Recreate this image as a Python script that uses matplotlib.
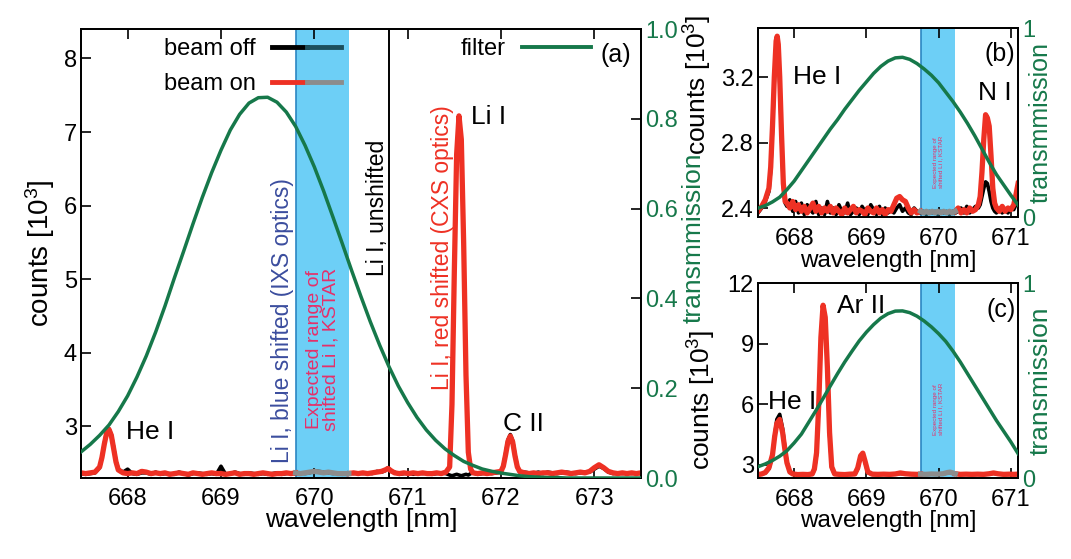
import numpy as np
import matplotlib
matplotlib.use("Agg")
import matplotlib.pyplot as plt
from matplotlib.lines import Line2D
from matplotlib.legend_handler import HandlerTuple

plt.rcParams['font.family'] = ['Liberation Sans', 'DejaVu Sans']
plt.rcParams['mathtext.default'] = 'regular'

# ---------------- data: panel (a) ----------------
wl_a = [667.50, 667.55, 667.60, 667.65, 667.70, 667.725, 667.75, 667.775, 667.80, 667.825,
        667.85, 667.875, 667.90, 667.95, 668.00, 668.05, 668.10, 668.15, 668.20, 668.25,
        668.30, 668.35, 668.40, 668.45, 668.50, 668.55, 668.60, 668.65, 668.70, 668.75,
        668.80, 668.85, 668.90, 668.95, 669.00, 669.05, 669.10, 669.15, 669.20, 669.25,
        669.30, 669.35, 669.40, 669.45, 669.50, 669.55, 669.60, 669.65, 669.70, 669.75,
        669.80, 669.85, 669.90, 669.95, 670.00, 670.05, 670.10, 670.15, 670.20, 670.25,
        670.30, 670.37, 670.42, 670.47, 670.52, 670.57, 670.62, 670.67, 670.72, 670.76,
        670.79, 670.82, 670.86, 670.91, 670.96, 671.01, 671.06, 671.11, 671.16, 671.21,
        671.26, 671.31, 671.36, 671.41, 671.45, 671.475, 671.50, 671.525, 671.55, 671.575,
        671.60, 671.625, 671.65, 671.675, 671.70, 671.75, 671.80, 671.85, 671.90, 671.95,
        672.00, 672.025, 672.05, 672.075, 672.10, 672.125, 672.15, 672.175, 672.20, 672.25,
        672.30, 672.35, 672.40, 672.45, 672.50, 672.55, 672.60, 672.65, 672.70, 672.75,
        672.80, 672.85, 672.90, 672.95, 673.00, 673.05, 673.10, 673.15, 673.20, 673.25,
        673.30, 673.35, 673.40, 673.45, 673.50]
on_a = [2.37, 2.36, 2.37, 2.38, 2.45, 2.58, 2.76, 2.91, 2.96, 2.88,
        2.70, 2.52, 2.41, 2.37, 2.36, 2.37, 2.36, 2.39, 2.38, 2.36,
        2.37, 2.36, 2.37, 2.35, 2.36, 2.37, 2.36, 2.35, 2.37, 2.36,
        2.35, 2.36, 2.37, 2.36, 2.36, 2.35, 2.36, 2.37, 2.35, 2.36,
        2.36, 2.35, 2.36, 2.37, 2.36, 2.35, 2.36, 2.36, 2.37, 2.36,
        2.37, 2.36, 2.37, 2.38, 2.39, 2.38, 2.37, 2.38, 2.37, 2.36,
        2.36, 2.36, 2.37, 2.36, 2.37, 2.36, 2.37, 2.38, 2.39, 2.41,
        2.43, 2.40, 2.37, 2.36, 2.37, 2.36, 2.37, 2.36, 2.37, 2.36,
        2.36, 2.37, 2.36, 2.38, 2.45, 3.30, 5.10, 6.70, 7.22, 6.90,
        5.50, 3.70, 2.65, 2.42, 2.37, 2.36, 2.37, 2.36, 2.37, 2.38,
        2.39, 2.46, 2.62, 2.80, 2.87, 2.79, 2.60, 2.45, 2.39, 2.37,
        2.36, 2.37, 2.36, 2.37, 2.37, 2.36, 2.37, 2.38, 2.37, 2.36,
        2.37, 2.38, 2.37, 2.39, 2.44, 2.48, 2.44, 2.39, 2.37, 2.36,
        2.37, 2.36, 2.37, 2.36, 2.37]
off_a = [2.36, 2.35, 2.36, 2.37, 2.44, 2.58, 2.77, 2.92, 2.97, 2.89,
         2.72, 2.53, 2.42, 2.38, 2.42, 2.36, 2.35, 2.37, 2.37, 2.35,
         2.38, 2.35, 2.36, 2.36, 2.35, 2.38, 2.36, 2.34, 2.36, 2.37,
         2.36, 2.35, 2.36, 2.35, 2.46, 2.35, 2.36, 2.38, 2.36, 2.35,
         2.37, 2.36, 2.35, 2.36, 2.35, 2.36, 2.37, 2.35, 2.36, 2.37,
         2.36, 2.37, 2.36, 2.37, 2.40, 2.39, 2.38, 2.37, 2.36, 2.37,
         2.35, 2.37, 2.36, 2.37, 2.36, 2.37, 2.36, 2.39, 2.38, 2.40,
         2.44, 2.39, 2.38, 2.35, 2.36, 2.37, 2.35, 2.37, 2.36, 2.37,
         2.35, 2.36, 2.37, 2.36, 2.34, 2.33, 2.34, 2.35, 2.34, 2.33,
         2.34, 2.35, 2.34, 2.36, 2.37, 2.35, 2.36, 2.37, 2.36, 2.37,
         2.38, 2.47, 2.64, 2.82, 2.89, 2.81, 2.62, 2.46, 2.38, 2.38,
         2.37, 2.36, 2.38, 2.36, 2.38, 2.37, 2.36, 2.37, 2.38, 2.37,
         2.36, 2.37, 2.38, 2.38, 2.42, 2.46, 2.43, 2.38, 2.36, 2.37,
         2.36, 2.37, 2.36, 2.37, 2.36]
filt_wl_a = np.round(np.arange(667.5, 673.55, 0.1), 2)
filt_a = [0.058, 0.075, 0.095, 0.118, 0.148, 0.183, 0.225, 0.272, 0.325, 0.383,
          0.445, 0.505, 0.566, 0.625, 0.680, 0.730, 0.775, 0.810, 0.835, 0.847,
          0.848, 0.837, 0.815, 0.783, 0.741, 0.693, 0.639, 0.581, 0.522, 0.462,
          0.404, 0.348, 0.296, 0.248, 0.205, 0.168, 0.135, 0.107, 0.084, 0.065,
          0.050, 0.037, 0.028, 0.020, 0.015, 0.011, 0.008, 0.005, 0.003, 0.002,
          0.001, 0.001, 0.000, 0.000, 0.000, 0.000, 0.000, 0.000, 0.000, 0.000,
          0.000]
band_a = (669.80, 670.37)
li_unshifted = 670.8

# ---------------- data: panel (b) ----------------
wl_b = [667.50, 667.55, 667.60, 667.65, 667.675, 667.70, 667.725, 667.75, 667.765, 667.78,
        667.80, 667.825, 667.85, 667.875, 667.90, 667.94, 667.98, 668.02, 668.06, 668.10,
        668.14, 668.18, 668.22, 668.26, 668.30, 668.34, 668.38, 668.42, 668.46, 668.50,
        668.54, 668.58, 668.62, 668.66, 668.70, 668.74, 668.78, 668.82, 668.86, 668.90,
        668.94, 668.98, 669.02, 669.06, 669.10, 669.14, 669.18, 669.22, 669.26, 669.30,
        669.34, 669.38, 669.42, 669.46, 669.50, 669.54, 669.58, 669.62, 669.66, 669.70,
        669.75, 669.79, 669.83, 669.87, 669.91, 669.95, 669.99, 670.03, 670.07, 670.11,
        670.15, 670.19, 670.23, 670.27, 670.31, 670.35, 670.39, 670.43, 670.47, 670.51,
        670.55, 670.575, 670.60, 670.625, 670.65, 670.675, 670.70, 670.725, 670.75, 670.775,
        670.80, 670.84, 670.88, 670.92, 670.96, 671.00, 671.04, 671.07, 671.10]
on_b = [2.38, 2.41, 2.45, 2.52, 2.65, 2.90, 3.20, 3.42, 3.45, 3.40,
        3.20, 2.85, 2.55, 2.44, 2.43, 2.40, 2.44, 2.39, 2.42, 2.38,
        2.41, 2.37, 2.40, 2.43, 2.38, 2.41, 2.37, 2.40, 2.38, 2.41,
        2.37, 2.40, 2.38, 2.36, 2.40, 2.37, 2.39, 2.41, 2.37, 2.39,
        2.38, 2.36, 2.40, 2.38, 2.37, 2.40, 2.37, 2.39, 2.36, 2.39,
        2.38, 2.42, 2.46, 2.47, 2.45, 2.44, 2.40, 2.37, 2.39, 2.37,
        2.38, 2.37, 2.38, 2.37, 2.38, 2.37, 2.38, 2.37, 2.38, 2.37,
        2.38, 2.37, 2.38, 2.40, 2.37, 2.39, 2.37, 2.40, 2.38, 2.39,
        2.42, 2.47, 2.62, 2.82, 2.97, 2.95, 2.90, 2.72, 2.52, 2.43,
        2.40, 2.38, 2.41, 2.38, 2.40, 2.39, 2.42, 2.48, 2.55]
off_b = [2.37, 2.40, 2.44, 2.50, 2.63, 2.88, 3.18, 3.40, 3.43, 3.38,
         3.17, 2.83, 2.53, 2.43, 2.41, 2.45, 2.38, 2.44, 2.37, 2.43,
         2.36, 2.42, 2.39, 2.37, 2.44, 2.36, 2.40, 2.36, 2.44, 2.37,
         2.40, 2.36, 2.42, 2.38, 2.37, 2.43, 2.36, 2.38, 2.40, 2.36,
         2.41, 2.38, 2.36, 2.42, 2.39, 2.36, 2.41, 2.36, 2.40, 2.37,
         2.39, 2.37, 2.40, 2.42, 2.38, 2.40, 2.37, 2.36, 2.40, 2.38,
         2.37, 2.38, 2.36, 2.38, 2.37, 2.38, 2.36, 2.38, 2.37, 2.38,
         2.36, 2.38, 2.37, 2.38, 2.40, 2.37, 2.41, 2.37, 2.39, 2.41,
         2.40, 2.42, 2.47, 2.52, 2.56, 2.55, 2.50, 2.44, 2.40, 2.38,
         2.37, 2.40, 2.37, 2.39, 2.37, 2.40, 2.39, 2.42, 2.44]
filt_wl_bc = np.round(np.arange(667.5, 671.15, 0.1), 2)
filt_b = [0.047, 0.060, 0.080, 0.105, 0.145, 0.190, 0.245, 0.300, 0.355, 0.410,
          0.465, 0.515, 0.570, 0.620, 0.670, 0.715, 0.760, 0.797, 0.825, 0.842,
          0.845, 0.834, 0.812, 0.783, 0.750, 0.710, 0.660, 0.610, 0.555, 0.495,
          0.430, 0.360, 0.290, 0.225, 0.170, 0.115, 0.063]

# ---------------- data: panel (c) ----------------
wl_c = [667.50, 667.55, 667.60, 667.65, 667.70, 667.73, 667.76, 667.80, 667.84, 667.87,
        667.90, 667.94, 667.98, 668.05, 668.12, 668.19, 668.25, 668.28, 668.31, 668.34,
        668.37, 668.40, 668.43, 668.46, 668.49, 668.52, 668.56, 668.63, 668.70, 668.77,
        668.84, 668.88, 668.92, 668.95, 668.98, 669.02, 669.08, 669.16, 669.24, 669.32,
        669.40, 669.47, 669.54, 669.62, 669.70, 669.75, 669.82, 669.90, 669.98, 670.06,
        670.12, 670.16, 670.23, 670.30, 670.38, 670.46, 670.54, 670.62, 670.70, 670.76,
        670.82, 670.90, 670.98, 671.04, 671.10]
on_c = [2.52, 2.55, 2.62, 2.85, 3.50, 4.40, 5.05, 5.25, 4.60, 3.80,
        3.10, 2.65, 2.55, 2.52, 2.53, 2.52, 2.55, 2.80, 3.60, 6.00,
        9.30, 10.90, 10.30, 7.80, 4.60, 2.90, 2.55, 2.53, 2.52, 2.54,
        2.55, 2.85, 3.45, 3.58, 3.20, 2.65, 2.54, 2.53, 2.54, 2.53,
        2.55, 2.60, 2.56, 2.54, 2.53, 2.54, 2.53, 2.55, 2.54, 2.56,
        2.62, 2.64, 2.56, 2.53, 2.54, 2.53, 2.54, 2.53, 2.56, 2.60,
        2.56, 2.53, 2.54, 2.53, 2.54]
off_c = [2.52, 2.54, 2.60, 2.80, 3.45, 4.45, 5.25, 5.50, 4.80, 3.90,
         3.15, 2.66, 2.55, 2.53, 2.52, 2.53, 2.54, 2.75, 3.50, 5.90,
         9.20, 10.80, 10.20, 7.70, 4.50, 2.85, 2.54, 2.52, 2.53, 2.52,
         2.54, 2.80, 3.40, 3.52, 3.15, 2.62, 2.53, 2.52, 2.53, 2.52,
         2.54, 2.57, 2.55, 2.53, 2.52, 2.53, 2.52, 2.54, 2.53, 2.55,
         2.60, 2.62, 2.55, 2.52, 2.53, 2.52, 2.53, 2.52, 2.55, 2.58,
         2.55, 2.52, 2.53, 2.52, 2.53]
filt_c = [0.058, 0.072, 0.090, 0.112, 0.140, 0.180, 0.225, 0.285, 0.345, 0.408,
          0.472, 0.535, 0.595, 0.650, 0.703, 0.748, 0.787, 0.820, 0.843, 0.856,
          0.857, 0.848, 0.830, 0.805, 0.775, 0.740, 0.700, 0.650, 0.595, 0.535,
          0.475, 0.415, 0.355, 0.295, 0.240, 0.185, 0.125]
band_bc = (669.75, 670.23)

# tick labels
xticks_a = [668, 669, 670, 671, 672, 673]
yticks_a = [3, 4, 5, 6, 7, 8]
tticks_a = [0.0, 0.2, 0.4, 0.6, 0.8, 1.0]
xticks_bc = [668, 669, 670, 671]
yticks_b = [2.4, 2.8, 3.2]
yticks_c = [3, 6, 9, 12]

# ---------------- style ----------------
RED = '#ee3124'
GRAY = '#8c8c8c'
TEAL = '#1c4f5c'
GREEN = '#16784a'
BAND = '#6dcff6'
BAND_EDGE = '#2b86c2'
BLUE_TXT = '#3b4d9e'
PINK_TXT = '#e5306a'
TFS = 17     # tick labels
LFS = 19     # axis labels
AFS = 19     # line annotations
RFS = 16.5   # rotated annotations

fig = plt.figure(figsize=(10.71, 5.59), dpi=100)
ax_a = fig.add_axes([0.0756, 0.1449, 0.5229, 0.8032])
ax_b = fig.add_axes([0.7078, 0.6118, 0.2428, 0.3381])
ax_c = fig.add_axes([0.7078, 0.1449, 0.2428, 0.3488])


def split(wl, y, lo, hi):
    wl = np.asarray(wl)
    y = np.asarray(y, dtype=float)
    inside = (wl >= lo) & (wl <= hi)
    outside = (wl <= lo) | (wl >= hi)
    return np.where(outside, y, np.nan), np.where(inside, y, np.nan)


def draw_panel(ax, wl, on, off, band, fwl, filt, lw_on, lw_off, xpad):
    ax.axvspan(band[0], band[1], color=BAND, lw=0, zorder=1)
    ax.axvline(band[0], color=BAND_EDGE, lw=1.2, zorder=1.5)
    off_out, off_in = split(wl, off, *band)
    on_out, on_in = split(wl, on, *band)
    ax.plot(wl, off_out, color='black', lw=lw_off, zorder=2, solid_joinstyle='round')
    ax.plot(wl, off_in, color=TEAL, lw=lw_off, zorder=2)
    ax.plot(wl, on_out, color=RED, lw=lw_on, zorder=3, solid_joinstyle='round')
    ax.plot(wl, on_in, color=GRAY, lw=lw_on, zorder=3)
    tw = ax.twinx()
    tw.plot(fwl, filt, color=GREEN, lw=2.5, zorder=4)
    tw.set_ylim(0, 1)
    for a in (ax, tw):
        for s in a.spines.values():
            s.set_linewidth(1.3)
    ax.tick_params(direction='in', length=7, width=1.2, labelsize=TFS, top=True,
                   pad=3)
    ax.tick_params(axis='x', pad=xpad)
    tw.tick_params(direction='in', length=7, width=1.2, labelsize=TFS,
                   labelcolor=GREEN, pad=3)
    return tw


# ---------------- panel (a) ----------------
tw_a = draw_panel(ax_a, wl_a, on_a, off_a, band_a, filt_wl_a, filt_a, 3.8, 2.6, 7)
ax_a.axvline(li_unshifted, color='black', lw=1.4, zorder=1.6)
ax_a.set_xlim(667.5, 673.5)
ax_a.set_ylim(2.3, 8.4)
ax_a.set_xticks(xticks_a)
ax_a.set_yticks(yticks_a)
tw_a.set_yticks(tticks_a)
tw_a.set_yticklabels([f'{t:.1f}' for t in tticks_a])
ax_a.set_xlabel('wavelength [nm]', fontsize=LFS, labelpad=-1)
ax_a.set_ylabel('counts [10$^{3}$]', fontsize=20)
ax_a.yaxis.set_label_coords(-0.043, 0.5)
tw_a.set_ylabel('transmmission', fontsize=LFS, color=GREEN)
tw_a.yaxis.set_label_coords(1.073, 0.535)

ax_a.text(667.98, 2.93, 'He I', fontsize=AFS, va='center', ha='left', zorder=6)
ax_a.text(671.68, 7.2, 'Li I', fontsize=AFS, va='center', ha='left', zorder=6)
ax_a.text(672.02, 3.03, 'C II', fontsize=AFS, va='center', ha='left', zorder=6)
ax_a.text(669.66, 2.51, 'Li I, blue shifted (IXS optics)', rotation=90, fontsize=RFS,
          ha='center', va='bottom', color=BLUE_TXT, zorder=6)
ax_a.text(670.09, 2.94, 'Expected range of\nshifted Li I, KSTAR', rotation=90, fontsize=14,
          ha='center', va='bottom', multialignment='center', color=PINK_TXT,
          linespacing=1.0, zorder=6)
ax_a.text(670.68, 5.04, 'Li I, unshifted', rotation=90, fontsize=RFS,
          ha='center', va='bottom', color='black', zorder=6)
ax_a.text(671.37, 3.49, 'Li I, red shifted (CXS optics)', rotation=90, fontsize=RFS,
          ha='center', va='bottom', color=RED, zorder=6)
ax_a.text(0.955, 0.943, '(a)', transform=ax_a.transAxes, fontsize=18,
          ha='center', va='center')

h_off = (Line2D([], [], color='black', lw=3.5), Line2D([], [], color=TEAL, lw=3.5))
h_on = (Line2D([], [], color=RED, lw=3.5), Line2D([], [], color=GRAY, lw=3.5))
leg1 = tw_a.legend([h_off, h_on], ['beam off', 'beam on'],
                   handler_map={tuple: HandlerTuple(ndivide=None, pad=0)},
                   markerfirst=False, frameon=False, loc='upper left',
                   bbox_to_anchor=(0.14, 0.99), borderaxespad=0, borderpad=0.2,
                   handlelength=2.9, handletextpad=0.7, labelspacing=0.55,
                   fontsize=17)
tw_a.add_artist(leg1)
tw_a.legend([Line2D([], [], color=GREEN, lw=2.8)], ['filter'], markerfirst=False,
            frameon=False, loc='upper left', bbox_to_anchor=(0.67, 0.99),
            borderaxespad=0, borderpad=0.2, handlelength=2.9, handletextpad=0.7,
            fontsize=17)

# ---------------- panel (b) ----------------
tw_b = draw_panel(ax_b, wl_b, on_b, off_b, band_bc, filt_wl_bc, filt_b, 3.8, 2.6, 8)
ax_b.set_xlim(667.5, 671.1)
ax_b.set_ylim(2.345, 3.5)
ax_b.set_xticks(xticks_bc)
ax_b.set_yticks(yticks_b)
ax_b.set_yticklabels([f'{t:.1f}' for t in yticks_b])
tw_b.set_yticks([0, 1])
ax_b.set_xlabel('wavelength [nm]', fontsize=17.5, labelpad=0)
ax_b.set_ylabel('counts [10$^{3}$]', fontsize=LFS)
ax_b.yaxis.set_label_coords(-0.169, 0.70)
tw_b.set_ylabel('transmmission', fontsize=18, color=GREEN)
tw_b.yaxis.set_label_coords(1.04, 0.5)
ax_b.text(667.98, 3.2, 'He I', fontsize=AFS, va='center', ha='left', zorder=6)
ax_b.text(670.55, 3.10, 'N I', fontsize=AFS, va='center', ha='left', zorder=6)
ax_b.text(0.99, 0.86, '(b)', transform=ax_b.transAxes, fontsize=18,
          ha='right', va='center')
ax_b.text(np.mean(band_bc), 2.68, 'Expected range of\nshifted Li I, KSTAR', rotation=90,
          fontsize=4.5, ha='center', va='center', multialignment='center',
          color=PINK_TXT, linespacing=1.0, zorder=6)

# ---------------- panel (c) ----------------
tw_c = draw_panel(ax_c, wl_c, on_c, off_c, band_bc, filt_wl_bc, filt_c, 3.8, 2.6, 8)
ax_c.set_xlim(667.5, 671.1)
ax_c.set_ylim(2.35, 12)
ax_c.set_xticks(xticks_bc)
ax_c.set_yticks(yticks_c)
tw_c.set_yticks([0, 1])
ax_c.set_xlabel('wavelength [nm]', fontsize=17.5, labelpad=-1)
ax_c.set_ylabel('counts [10$^{3}$]', fontsize=LFS)
ax_c.yaxis.set_label_coords(-0.154, 0.40)
tw_c.set_ylabel('transmission', fontsize=LFS, color=GREEN)
tw_c.yaxis.set_label_coords(1.04, 0.5)
ax_c.text(667.64, 6.1, 'He I', fontsize=AFS, va='center', ha='left', zorder=6)
ax_c.text(668.59, 10.85, 'Ar II', fontsize=AFS, va='center', ha='left', zorder=6)
ax_c.text(0.99, 0.86, '(c)', transform=ax_c.transAxes, fontsize=18,
          ha='right', va='center')
ax_c.text(np.mean(band_bc), 5.75, 'Expected range of\nshifted Li I, KSTAR', rotation=90,
          fontsize=4.5, ha='center', va='center', multialignment='center',
          color=PINK_TXT, linespacing=1.0, zorder=6)

fig.savefig('out.png', dpi=100)
